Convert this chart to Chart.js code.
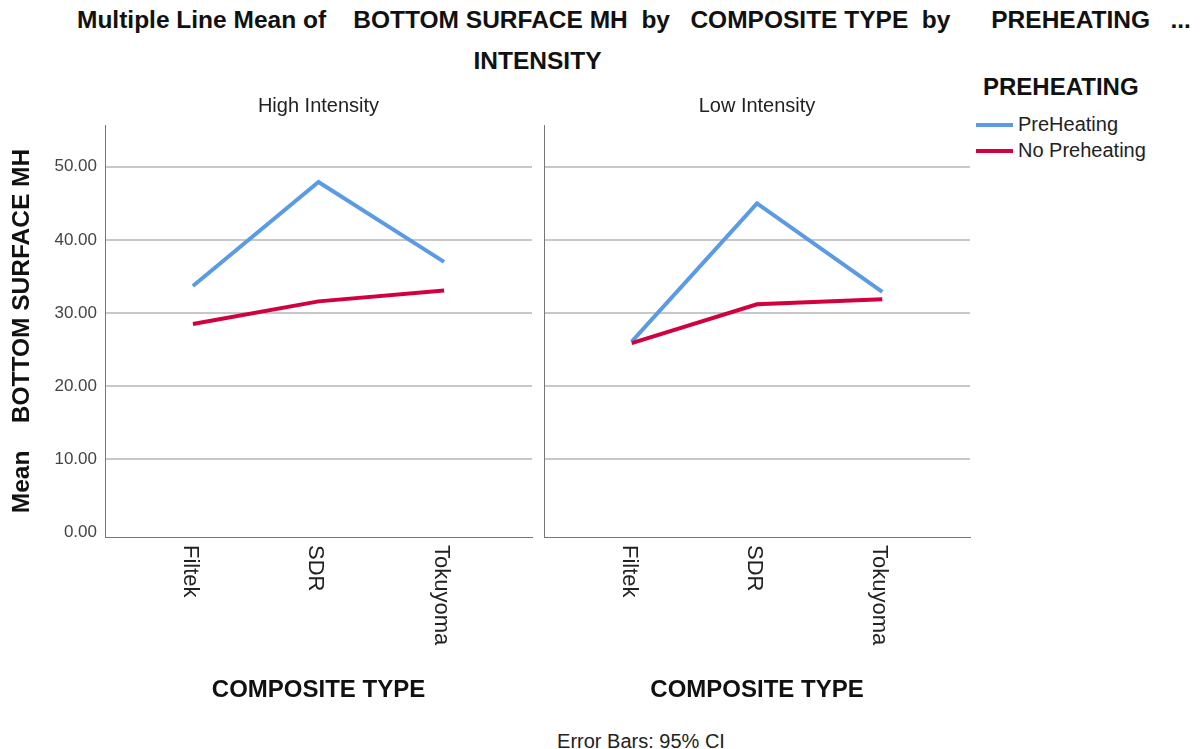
<!DOCTYPE html>
<html><head><meta charset="utf-8">
<script src="https://cdn.jsdelivr.net/npm/chart.js@4/dist/chart.umd.min.js"></script>
<style>
body{margin:0;background:#fff;width:1204px;height:749px;overflow:hidden;position:relative;font-family:"Liberation Sans",Arial,sans-serif;color:#111;}
.abs{position:absolute;white-space:pre;line-height:1;}
canvas{position:absolute;top:0;}
</style></head><body>
<div class="abs" id="title1" style="left:77px;top:8px;font-size:24.5px;font-weight:bold;"></div>
<div class="abs" id="title2" style="left:0;width:1075px;text-align:center;top:49px;font-size:24.5px;font-weight:bold;"></div>
<div class="abs" id="legTitle" style="left:983px;top:75px;font-size:24px;font-weight:bold;"></div>
<div id="legItems"></div>
<div class="abs" id="foot" style="left:0;width:1282px;text-align:center;top:731px;font-size:20px;color:#222;"></div>
<canvas id="cl" width="545" height="749" style="left:0"></canvas>
<canvas id="cr" width="440" height="749" style="left:540px"></canvas>
<script>
// ---- data ----
const categories = ['Filtek', 'SDR', 'Tokuyoma'];
const panels = ['High Intensity', 'Low Intensity'];
const seriesNames = ['PreHeating', 'No Preheating'];
const highPre = [33.7, 47.9, 37.0];
const highNo  = [28.5, 31.6, 33.1];
const lowPre  = [26.1, 45.0, 32.9];
const lowNo   = [25.9, 31.2, 31.9];
const yTicks = [0, 10, 20, 30, 40, 50];
const mainTitle1 = 'Multiple Line Mean of    BOTTOM SURFACE MH  by   COMPOSITE TYPE  by      PREHEATING   ...';
const mainTitle2 = 'INTENSITY';
const yTitle = 'Mean    BOTTOM SURFACE MH';
const xTitle = 'COMPOSITE TYPE';
const legendTitle = 'PREHEATING';
const footnote = 'Error Bars: 95% CI';

const colors = ['#5B9BE6', '#D2003C'];
const FONT = '"Liberation Sans", Arial, sans-serif';

document.getElementById('title1').textContent = mainTitle1;
document.getElementById('title2').textContent = mainTitle2;
document.getElementById('legTitle').textContent = legendTitle;
document.getElementById('foot').textContent = footnote;
const li = document.getElementById('legItems');
seriesNames.forEach((n, i) => {
  const y = 125 + i * 26;
  const sw = document.createElement('div');
  sw.style.cssText = `position:absolute;left:976px;top:${y-2}px;width:37px;height:4px;background:${colors[i]}`;
  li.appendChild(sw);
  const t = document.createElement('div');
  t.className = 'abs';
  t.style.cssText += `left:1018px;top:${y-11}px;font-size:20px;color:#222;`;
  t.textContent = n;
  li.appendChild(t);
});

const rotLabels = {
  id: 'rotLabels',
  afterDraw(chart) {
    const xs = chart.scales.x, ctx = chart.ctx;
    ctx.save();
    ctx.font = '22px ' + FONT;
    ctx.fillStyle = '#222';
    ctx.textAlign = 'left';
    ctx.textBaseline = 'middle';
    categories.forEach((c, i) => {
      const x = xs.getPixelForValue(i);
      ctx.save();
      ctx.translate(x - 3, xs.top + 8);
      ctx.rotate(Math.PI / 2);
      ctx.fillText(c, 0, 0);
      ctx.restore();
    });
    ctx.restore();
  }
};

function makeChart(id, panelTitle, pre, no, isLeft) {
  const toPts = arr => categories.map((c, i) => ({ x: i, y: arr[i] }));
  return new Chart(document.getElementById(id), {
    type: 'line',
    data: {
      datasets: [
        { label: seriesNames[0], data: toPts(pre), borderColor: colors[0], backgroundColor: colors[0], borderWidth: 4, pointRadius: 0, tension: 0, order: 2 },
        { label: seriesNames[1], data: toPts(no), borderColor: colors[1], backgroundColor: colors[1], borderWidth: 4, pointRadius: 0, tension: 0, order: 1 }
      ]
    },
    options: {
      responsive: false,
      animation: false,
      devicePixelRatio: 1,
      layout: { padding: { left: isLeft ? 5 : 0, right: isLeft ? 13 : 10, top: 94, bottom: 41 } },
      plugins: {
        legend: { display: false },
        tooltip: { enabled: false },
        title: { display: true, text: panelTitle, fullSize: false, font: { family: FONT, size: 20, weight: 'normal' }, color: '#222', padding: { top: 0, bottom: 7 } }
      },
      scales: {
        x: {
          type: 'linear', min: -0.7, max: 2.7,
          afterFit: s => { s.height = 171; },
          ticks: { display: false },
          grid: { display: false, drawTicks: false },
          border: { display: true, color: '#777', width: 1 },
          title: { display: true, text: xTitle, font: { family: FONT, size: 24, weight: 'bold' }, color: '#111', padding: { top: 4, bottom: 3 } }
        },
        y: {
          min: -0.6, max: 55.7,
          afterBuildTicks: s => { s.ticks = yTicks.map(v => ({ value: v })); },
          afterFit: s => { s.width = isLeft ? 100 : 4; },
          ticks: { display: isLeft, callback: v => Number(v).toFixed(2), font: { family: FONT, size: 17 }, color: '#444', padding: 8 },
          grid: { color: c => (c.tick && c.tick.value === 0) ? 'rgba(0,0,0,0)' : '#c8c8c8', lineWidth: 2, drawTicks: false },
          border: { display: true, color: '#777', width: 1 },
          title: { display: isLeft, text: yTitle, font: { family: FONT, size: 24.5, weight: 'bold' }, color: '#111', padding: { top: 3, bottom: 0 } }
        }
      }
    },
    plugins: [rotLabels]
  });
}

makeChart('cl', panels[0], highPre, highNo, true);
makeChart('cr', panels[1], lowPre, lowNo, false);
</script>
</body></html>
